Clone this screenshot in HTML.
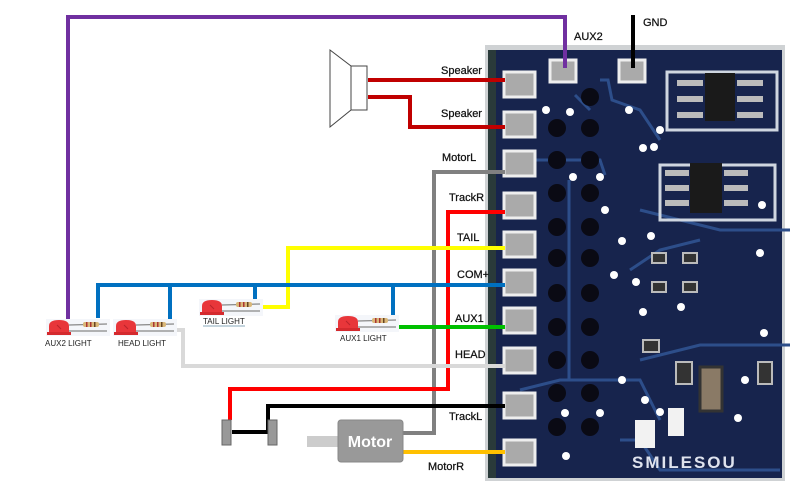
<!DOCTYPE html>
<html><head><meta charset="utf-8"><style>
html,body{margin:0;padding:0;background:#fff;}
svg{display:block;}
text{font-family:"Liberation Sans",sans-serif;}
</style></head><body>
<svg width="800" height="489" viewBox="0 0 800 489" xmlns="http://www.w3.org/2000/svg">
<defs>
<g id="led">
<rect x="-1" y="-1" width="64" height="17" fill="#f4f6fa"/>
<path d="M2 14 L2 6 Q2 0 12 0 Q22 0 22 6 L22 14 Z" fill="#e8363a"/>
<rect x="0" y="12" width="24" height="3" fill="#d42a2e"/>
<path d="M10 5 L14 9" stroke="#b8242a" stroke-width="1"/>
<line x1="22" y1="5" x2="60" y2="4" stroke="#888" stroke-width="1.2"/>
<line x1="22" y1="11" x2="60" y2="11" stroke="#888" stroke-width="1.2"/>
<rect x="36" y="2" width="16" height="5" rx="2" fill="#d9b779"/>
<rect x="39" y="2" width="1.5" height="5" fill="#a33"/>
<rect x="43" y="2" width="1.5" height="5" fill="#a33"/>
<rect x="47" y="2" width="1.5" height="5" fill="#642"/>
</g>
</defs>

<!-- PCB -->
<rect x="485" y="45" width="300" height="436" fill="#cfd2d4"/>
<rect x="488" y="50" width="294" height="428" fill="#17244d"/>
<rect x="488" y="50" width="8" height="428" fill="#2a3a3a"/>
<g stroke="#2d4e8a" stroke-width="3" fill="none">
<path d="M600 80 L608 80 L612 100 L640 110 L660 140"/>
<path d="M575 95 L590 110"/>
<path d="M520 160 L600 160 L605 175"/>
<line x1="569" y1="180" x2="569" y2="380"/>
<path d="M640 210 L720 230 L790 230"/>
<path d="M630 270 L660 250 L700 240"/>
<path d="M640 360 L700 345 L790 345"/>
<path d="M520 390 L560 380 L640 380 L660 420"/>
<path d="M620 440 L640 440 L660 470 L780 470"/>
</g>
<g fill="#0a0a14">
<circle cx="590" cy="97" r="9"/>
<circle cx="557" cy="128" r="9"/><circle cx="590" cy="128" r="9"/>
<circle cx="557" cy="160" r="9"/><circle cx="590" cy="160" r="9"/>
<circle cx="557" cy="193" r="9"/><circle cx="590" cy="193" r="9"/>
<circle cx="557" cy="227" r="9"/><circle cx="590" cy="227" r="9"/>
<circle cx="557" cy="258" r="9"/><circle cx="590" cy="258" r="9"/>
<circle cx="557" cy="293" r="9"/><circle cx="590" cy="293" r="9"/>
<circle cx="557" cy="327" r="9"/><circle cx="590" cy="327" r="9"/>
<circle cx="557" cy="360" r="9"/><circle cx="590" cy="360" r="9"/>
<circle cx="557" cy="393" r="9"/><circle cx="590" cy="393" r="9"/>
<circle cx="557" cy="427" r="9"/><circle cx="590" cy="427" r="9"/>
</g>
<g fill="#fff">
<circle cx="546" cy="110" r="4"/><circle cx="570" cy="112" r="4"/><circle cx="629" cy="110" r="4"/>
<circle cx="660" cy="130" r="4"/><circle cx="654" cy="147" r="4"/><circle cx="643" cy="148" r="4"/>
<circle cx="573" cy="177" r="4"/><circle cx="600" cy="177" r="4"/><circle cx="605" cy="210" r="4"/>
<circle cx="622" cy="241" r="4"/><circle cx="651" cy="236" r="4"/><circle cx="760" cy="253" r="4"/>
<circle cx="614" cy="275" r="4"/><circle cx="636" cy="282" r="4"/><circle cx="643" cy="312" r="4"/>
<circle cx="681" cy="307" r="4"/><circle cx="764" cy="333" r="4"/><circle cx="622" cy="380" r="4"/>
<circle cx="645" cy="400" r="4"/><circle cx="660" cy="412" r="4"/><circle cx="745" cy="380" r="4"/>
<circle cx="738" cy="418" r="4"/><circle cx="565" cy="413" r="4"/><circle cx="600" cy="413" r="4"/>
<circle cx="566" cy="456" r="4"/><circle cx="762" cy="205" r="4"/>
</g>
<rect x="667" y="72" width="110" height="58" fill="none" stroke="#cfd6e0" stroke-width="3"/>
<rect x="705" y="73" width="30" height="48" fill="#1a1a1a"/>
<g fill="#bbb"><rect x="677" y="80" width="26" height="6"/><rect x="677" y="96" width="26" height="6"/><rect x="677" y="112" width="26" height="6"/>
<rect x="737" y="80" width="26" height="6"/><rect x="737" y="96" width="26" height="6"/><rect x="737" y="112" width="26" height="6"/></g>
<rect x="660" y="165" width="115" height="55" fill="none" stroke="#cfd6e0" stroke-width="3"/>
<rect x="690" y="163" width="32" height="50" fill="#1a1a1a"/>
<g fill="#bbb"><rect x="665" y="170" width="24" height="6"/><rect x="665" y="185" width="24" height="6"/><rect x="665" y="200" width="24" height="6"/>
<rect x="724" y="170" width="24" height="6"/><rect x="724" y="185" width="24" height="6"/><rect x="724" y="200" width="24" height="6"/></g>
<g fill="#333" stroke="#bbb" stroke-width="2">
<rect x="652" y="253" width="14" height="10"/><rect x="683" y="253" width="14" height="10"/><rect x="652" y="282" width="14" height="10"/><rect x="683" y="282" width="14" height="10"/>
<rect x="643" y="340" width="16" height="12"/><rect x="676" y="362" width="16" height="22"/><rect x="758" y="362" width="14" height="22"/>
</g>
<rect x="700" y="367" width="22" height="44" fill="#8a7a66" stroke="#333" stroke-width="3"/>
<rect x="635" y="420" width="20" height="28" fill="#f2f2f2"/><rect x="668" y="408" width="16" height="28" fill="#f2f2f2"/>
<text x="632" y="468" font-size="17" font-weight="bold" letter-spacing="2" fill="#dfe3ee">SMILESOU</text>
<g fill="#aaaaaa" stroke="#eee" stroke-width="3">
<rect x="504" y="72" width="31" height="25"/><rect x="504" y="112" width="31" height="25"/>
<rect x="504" y="151" width="31" height="25"/><rect x="504" y="193" width="31" height="25"/>
<rect x="504" y="232" width="31" height="25"/><rect x="504" y="270" width="31" height="25"/>
<rect x="504" y="308" width="31" height="25"/><rect x="504" y="348" width="31" height="25"/>
<rect x="504" y="393" width="31" height="25"/><rect x="504" y="440" width="31" height="25"/>
<rect x="550" y="60" width="26" height="22"/><rect x="619" y="60" width="26" height="22"/>
</g>

<path d="M330 50 L351 66 L351 110 L330 127 Z" fill="#fff" stroke="#444" stroke-width="1"/>
<rect x="351" y="66" width="16" height="44" fill="#fff" stroke="#444" stroke-width="1"/>

<g fill="none" stroke-width="4" stroke-linejoin="miter">
<path d="M68 320 L68 17 L565 17 L565 68" stroke="#7030a0"/>
<path d="M633 15 L633 68" stroke="#000"/>
<path d="M368 80 L505 80" stroke="#c00000"/>
<path d="M368 97 L410 97 L410 127 L505 127" stroke="#c00000"/>
<path d="M505 172 L434 172 L434 433 L403 433" stroke="#808080"/>
<path d="M505 212 L448 212 L448 389 L230 389 L230 420" stroke="#ff0000"/>
<path d="M505 248 L288 248 L288 307 L258 307" stroke="#ffff00"/>
<path d="M505 285 L98 285 L98 318 M170 285 L170 320 M255 285 L255 302 M393 285 L393 316" stroke="#0070c0"/>
<path d="M505 327 L397 327" stroke="#00c000"/>
<path d="M505 366 L183 366 L183 330 L174 330" stroke="#d9d9d9"/>
<path d="M505 406 L268 406 L268 430" stroke="#000"/>
<path d="M232 432 L268 432" stroke="#000"/>
<path d="M403 452 L505 452" stroke="#ffc000"/>
</g>

<use href="#led" x="47" y="320"/>
<use href="#led" x="114" y="320"/>
<use href="#led" x="200" y="300"/>
<use href="#led" x="336" y="316"/>
<g font-size="8" fill="#222">
<text x="45" y="346">AUX2 LIGHT</text>
<text x="118" y="346">HEAD LIGHT</text>
<text x="203" y="324">TAIL LIGHT</text>
<text x="340" y="341">AUX1 LIGHT</text>
</g>
<line x1="203" y1="326" x2="245" y2="326" stroke="#8ab" stroke-width="1"/>

<rect x="222" y="420" width="9" height="25" fill="#999" stroke="#666"/>
<rect x="268" y="420" width="9" height="25" fill="#999" stroke="#666"/>
<rect x="307" y="436" width="32" height="11" fill="#ccc"/>
<rect x="338" y="420" width="65" height="42" rx="3" fill="#999" stroke="#888"/>
<text x="370" y="447" font-size="16" font-weight="bold" fill="#fff" text-anchor="middle">Motor</text>

<g font-size="11" fill="#111" stroke="#111" stroke-width="0.25">
<text x="574" y="40">AUX2</text>
<text x="643" y="26">GND</text>
<text x="441" y="74">Speaker</text>
<text x="441" y="117">Speaker</text>
<text x="442" y="161">MotorL</text>
<text x="449" y="201">TrackR</text>
<text x="457" y="241">TAIL</text>
<text x="457" y="278">COM+</text>
<text x="455" y="322">AUX1</text>
<text x="455" y="358">HEAD</text>
<text x="449" y="420">TrackL</text>
<text x="428" y="470">MotorR</text>
</g>
</svg>
</body></html>
